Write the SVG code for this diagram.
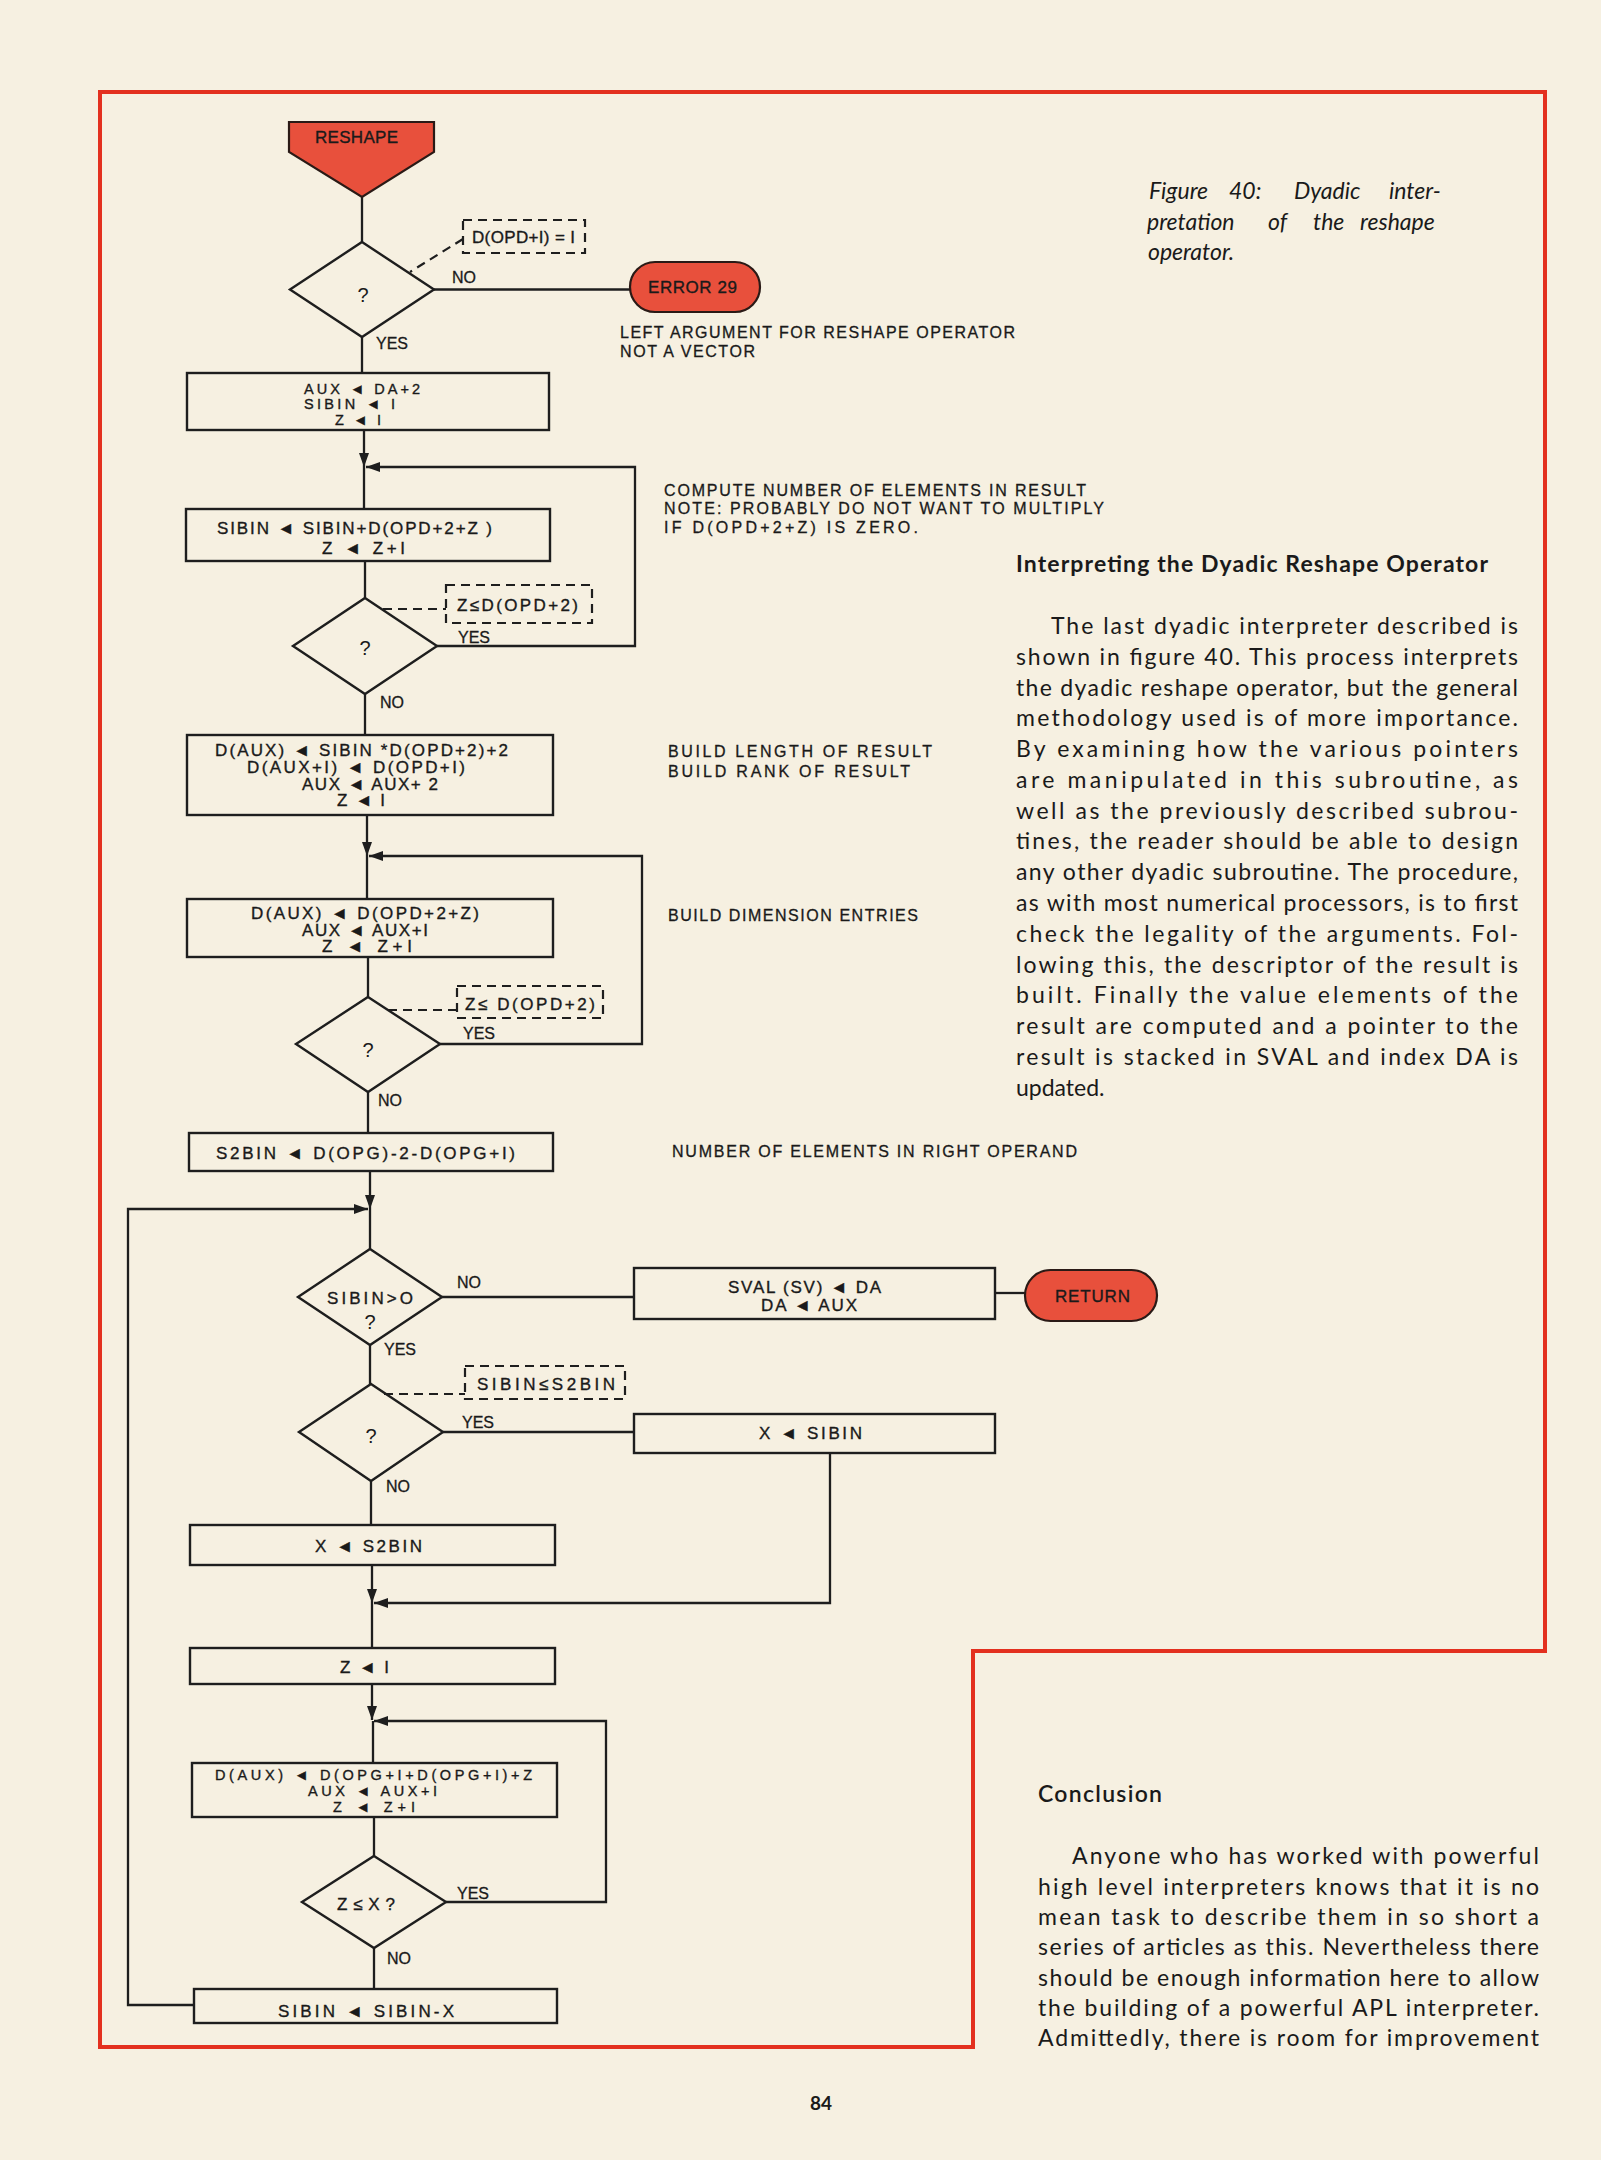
<svg xmlns="http://www.w3.org/2000/svg" width="1601" height="2160" viewBox="0 0 1601 2160">
<style>
.ln{fill:none;stroke:#1e1e1e;stroke-width:2.3}
.bx{fill:none;stroke:#1e1e1e;stroke-width:2.4}
.dash{fill:none;stroke:#1e1e1e;stroke-width:2.2;stroke-dasharray:9 6}
.red{fill:#e8503c;stroke:#2a1a16;stroke-width:2.2}
.t{font-family:"Liberation Sans","DejaVu Sans",sans-serif;font-size:17px;fill:#1a1a1a;stroke:#1a1a1a;stroke-width:0.35}
.ts{font-family:"Liberation Sans","DejaVu Sans",sans-serif;font-size:14.5px;fill:#1a1a1a;stroke:#1a1a1a;stroke-width:0.35}
.lb{font-family:"Liberation Sans","DejaVu Sans",sans-serif;font-size:16px;fill:#1a1a1a;stroke:#1a1a1a;stroke-width:0.3}
.q{font-family:"Liberation Sans","DejaVu Sans",sans-serif;font-size:20px;fill:#1a1a1a;text-anchor:middle}
.nt{font-family:"Liberation Sans","DejaVu Sans",sans-serif;font-size:16px;fill:#1a1a1a;stroke:#1a1a1a;stroke-width:0.3}
.body{font-family:Lato,"Open Sans",sans-serif;font-size:23px;fill:#1a1a1a}
.hd{font-family:Lato,"Open Sans",sans-serif;font-size:23px;font-weight:bold;fill:#1a1a1a}
.cap{font-family:Lato,"Open Sans",sans-serif;font-size:23px;font-style:italic;fill:#1a1a1a}
</style>
<defs>
<marker id="ah" viewBox="0 0 14 10" refX="14" refY="5" markerWidth="14" markerHeight="10" markerUnits="userSpaceOnUse" orient="auto"><path d="M0,0 L14,5 L0,10 z" fill="#1e1e1e"/></marker>
</defs>
<rect x="0" y="0" width="1601" height="2160" fill="#f6f0e1"/>
<path d="M100,92 H1545 V1651 H973 V2047 H100 Z" fill="none" stroke="#e3301f" stroke-width="4"/>

<g id="connectors">
<path class="ln" d="M362,197 V242"/>
<path class="ln" d="M362,337 V373"/>
<path class="ln" d="M434,289.5 H630"/>
<path class="ln" d="M364,430 V467" marker-end="url(#ah)"/>
<path class="ln" d="M437,646 H635 V467 H366" marker-end="url(#ah)"/>
<path class="ln" d="M364,467 V509"/>
<path class="ln" d="M365,561 V598"/>
<path class="ln" d="M365,694 V735"/>
<path class="ln" d="M367,815 V856" marker-end="url(#ah)"/>
<path class="ln" d="M440,1044 H642 V856 H369" marker-end="url(#ah)"/>
<path class="ln" d="M367,856 V899"/>
<path class="ln" d="M368,957 V997"/>
<path class="ln" d="M368,1092 V1133"/>
<path class="ln" d="M370,1171 V1209" marker-end="url(#ah)"/>
<path class="ln" d="M194,2005 H128 V1209 H368" marker-end="url(#ah)"/>
<path class="ln" d="M370,1209 V1249"/>
<path class="ln" d="M442,1297 H634"/>
<path class="ln" d="M995,1293 H1025"/>
<path class="ln" d="M370,1345 V1384"/>
<path class="ln" d="M443,1432 H634"/>
<path class="ln" d="M371,1481 V1525"/>
<path class="ln" d="M372,1565 V1603" marker-end="url(#ah)"/>
<path class="ln" d="M830,1453 V1603 H374" marker-end="url(#ah)"/>
<path class="ln" d="M372,1603 V1648"/>
<path class="ln" d="M372,1684 V1720" marker-end="url(#ah)"/>
<path class="ln" d="M446,1902 H606 V1721 H374" marker-end="url(#ah)"/>
<path class="ln" d="M373,1721 V1763"/>
<path class="ln" d="M374,1817 V1856"/>
<path class="ln" d="M374,1948 V1989"/>
<path class="dash" d="M463,239 L410,272"/>
<path class="dash" d="M383,609 H446"/>
<path class="dash" d="M388,1010 H457"/>
<path class="dash" d="M384,1394 H465"/>
<text class="lb" x="452" y="283">NO</text>
<text class="lb" x="376" y="349">YES</text>
<text class="lb" x="458" y="643">YES</text>
<text class="lb" x="380" y="708">NO</text>
<text class="lb" x="463" y="1039">YES</text>
<text class="lb" x="378" y="1106">NO</text>
<text class="lb" x="457" y="1288">NO</text>
<text class="lb" x="384" y="1355">YES</text>
<text class="lb" x="462" y="1428">YES</text>
<text class="lb" x="386" y="1492">NO</text>
<text class="lb" x="457" y="1899">YES</text>
<text class="lb" x="387" y="1964">NO</text>
</g>

<g id="reshape">
<path class="red" d="M289,122 H434 V152 L362,197 L289,152 Z"/>
<text class="t" x="315" y="143" textLength="83">RESHAPE</text>
</g>
<g id="d1">
<path class="bx" d="M362,242 L434,289.5 L362,337 L290,289.5 Z"/>
<text class="q" x="363" y="302">?</text>
</g>
<g id="a1">
<rect class="dash" x="463" y="220" width="122" height="33"/>
<text class="t" x="472" y="243" textLength="103">D(OPD+I) = I</text>
</g>
<g id="error29">
<rect class="red" x="630" y="262" width="130" height="50" rx="25"/>
<text class="t" x="648" y="293" textLength="89">ERROR 29</text>
</g>
<g id="note-error">
<text class="nt" x="620" y="338" textLength="395">LEFT ARGUMENT FOR RESHAPE OPERATOR</text>
<text class="nt" x="620" y="357" textLength="135">NOT A VECTOR</text>
</g>
<g id="b1">
<rect class="bx" x="187" y="373" width="362" height="57"/>
<text class="ts" x="304" y="393.5" textLength="116">AUX ◄ DA+2</text>
<text class="ts" x="304" y="409" textLength="91">SIBIN ◄ I</text>
<text class="ts" x="335" y="424.5" textLength="46">Z ◄ I</text>
</g>
<g id="b2">
<rect class="bx" x="186" y="509" width="364" height="52"/>
<text class="t" x="217" y="534" textLength="275">SIBIN ◄ SIBIN+D(OPD+2+Z )</text>
<text class="t" x="322" y="554" textLength="83">Z ◄ Z+I</text>
</g>
<g id="note-compute">
<text class="nt" x="664" y="496" textLength="422">COMPUTE NUMBER OF ELEMENTS IN RESULT</text>
<text class="nt" x="664" y="514" textLength="440">NOTE: PROBABLY DO NOT WANT TO MULTIPLY</text>
<text class="nt" x="664" y="533" textLength="254">IF D(OPD+2+Z) IS ZERO.</text>
</g>
<g id="d2">
<path class="bx" d="M365,598 L437,646 L365,694 L293,646 Z"/>
<text class="q" x="365" y="655">?</text>
</g>
<g id="a2">
<rect class="dash" x="446" y="585" width="146" height="38"/>
<text class="t" x="457" y="611" textLength="121">Z≤D(OPD+2)</text>
</g>
<g id="b3">
<rect class="bx" x="187" y="735" width="366" height="80"/>
<text class="t" x="215" y="756" textLength="293">D(AUX) ◄ SIBIN *D(OPD+2)+2</text>
<text class="t" x="247" y="772.5" textLength="218">D(AUX+I) ◄ D(OPD+I)</text>
<text class="t" x="302" y="789.5" textLength="136">AUX ◄ AUX+ 2</text>
<text class="t" x="337" y="806" textLength="48">Z ◄ I</text>
</g>
<g id="note-build">
<text class="nt" x="668" y="757" textLength="264">BUILD LENGTH OF RESULT</text>
<text class="nt" x="668" y="777" textLength="242">BUILD RANK OF RESULT</text>
</g>
<g id="b4">
<rect class="bx" x="187" y="899" width="366" height="58"/>
<text class="t" x="251" y="919" textLength="228">D(AUX) ◄ D(OPD+2+Z)</text>
<text class="t" x="302" y="935.5" textLength="126">AUX ◄ AUX+I</text>
<text class="t" x="322" y="951.5" textLength="90">Z ◄ Z+I</text>
</g>
<g id="note-dim">
<text class="nt" x="668" y="921" textLength="250">BUILD DIMENSION ENTRIES</text>
</g>
<g id="d3">
<path class="bx" d="M368,997 L440,1044 L368,1092 L296,1044 Z"/>
<text class="q" x="368" y="1057">?</text>
</g>
<g id="a3">
<rect class="dash" x="457" y="986" width="146" height="32"/>
<text class="t" x="465" y="1010" textLength="130">Z≤ D(OPD+2)</text>
</g>
<g id="b5">
<rect class="bx" x="189" y="1133" width="364" height="38"/>
<text class="t" x="216" y="1159" textLength="299">S2BIN ◄ D(OPG)-2-D(OPG+I)</text>
</g>
<g id="note-number">
<text class="nt" x="672" y="1157" textLength="405">NUMBER OF ELEMENTS IN RIGHT OPERAND</text>
</g>
<g id="d4">
<path class="bx" d="M370,1249 L442,1297 L370,1345 L298,1297 Z"/>
<text class="t" x="327" y="1304" textLength="86">SIBIN&gt;O</text>
<text class="q" x="370" y="1329">?</text>
</g>
<g id="b6">
<rect class="bx" x="634" y="1268" width="361" height="51"/>
<text class="t" x="728" y="1292.5" textLength="153">SVAL (SV) ◄ DA</text>
<text class="t" x="761" y="1311" textLength="96">DA ◄ AUX</text>
</g>
<g id="return">
<rect class="red" x="1025" y="1270" width="132" height="51" rx="25.5"/>
<text class="t" x="1055" y="1302" textLength="75">RETURN</text>
</g>
<g id="a4">
<rect class="dash" x="465" y="1366" width="160" height="33"/>
<text class="t" x="477" y="1390" textLength="138">SIBIN≤S2BIN</text>
</g>
<g id="d5">
<path class="bx" d="M371,1384 L443,1432 L371,1481 L299,1432 Z"/>
<text class="q" x="371" y="1443">?</text>
</g>
<g id="b7">
<rect class="bx" x="634" y="1414" width="361" height="39"/>
<text class="t" x="759" y="1439" textLength="103">X ◄ SIBIN</text>
</g>
<g id="b8">
<rect class="bx" x="190" y="1525" width="365" height="40"/>
<text class="t" x="315" y="1551.5" textLength="107">X ◄ S2BIN</text>
</g>
<g id="b9">
<rect class="bx" x="190" y="1648" width="365" height="36"/>
<text class="t" x="340" y="1672.5" textLength="49">Z ◄ I</text>
</g>
<g id="b10">
<rect class="bx" x="192" y="1763" width="365" height="54"/>
<text class="ts" x="215" y="1780" textLength="317">D(AUX) ◄ D(OPG+I+D(OPG+I)+Z</text>
<text class="ts" x="308" y="1796" textLength="129">AUX ◄ AUX+I</text>
<text class="ts" x="333" y="1811.5" textLength="82">Z ◄ Z+I</text>
</g>
<g id="d6">
<path class="bx" d="M374,1856 L446,1902 L374,1948 L302,1902 Z"/>
<text class="t" x="337" y="1910" textLength="58">Z≤X?</text>
</g>
<g id="b11">
<rect class="bx" x="194" y="1989" width="363" height="34"/>
<text class="t" x="278" y="2016.5" textLength="176">SIBIN ◄ SIBIN-X</text>
</g>

<g id="caption">
<text class="cap" y="199"><tspan x="1149">Figure</tspan><tspan x="1229">40:</tspan><tspan x="1294">Dyadic</tspan><tspan x="1389">inter-</tspan></text>
<text class="cap" y="229.5"><tspan x="1147">pretation</tspan><tspan x="1268">of</tspan><tspan x="1313">the</tspan><tspan x="1360">reshape</tspan></text>
<text class="cap" x="1148" y="260">operator.</text>
</g>
<g id="article">
<text class="hd" x="1016" y="572" textLength="472">Interpreting the Dyadic Reshape Operator</text>
<text class="body" x="1051" y="634" textLength="467">The last dyadic interpreter described is</text>
<text class="body" x="1016" y="664.8" textLength="502">shown in figure 40. This process interprets</text>
<text class="body" x="1016" y="695.5" textLength="502">the dyadic reshape operator, but the general</text>
<text class="body" x="1016" y="726.3" textLength="502">methodology used is of more importance.</text>
<text class="body" x="1016" y="757.1" textLength="502">By examining how the various pointers</text>
<text class="body" x="1016" y="787.9" textLength="502">are manipulated in this subroutine, as</text>
<text class="body" x="1016" y="818.6" textLength="502">well as the previously described subrou-</text>
<text class="body" x="1016" y="849.4" textLength="502">tines, the reader should be able to design</text>
<text class="body" x="1016" y="880.2" textLength="502">any other dyadic subroutine. The procedure,</text>
<text class="body" x="1016" y="910.9" textLength="502">as with most numerical processors, is to first</text>
<text class="body" x="1016" y="941.7" textLength="502">check the legality of the arguments. Fol-</text>
<text class="body" x="1016" y="972.5" textLength="502">lowing this, the descriptor of the result is</text>
<text class="body" x="1016" y="1003.2" textLength="502">built. Finally the value elements of the</text>
<text class="body" x="1016" y="1034" textLength="502">result are computed and a pointer to the</text>
<text class="body" x="1016" y="1064.8" textLength="502">result is stacked in SVAL and index DA is</text>
<text class="body" x="1016" y="1095.5">updated.</text>
<text class="hd" x="1038" y="1802" textLength="124" style="font-weight:600">Conclusion</text>
<text class="body" x="1072" y="1864" textLength="467">Anyone who has worked with powerful</text>
<text class="body" x="1038" y="1894.5" textLength="501">high level interpreters knows that it is no</text>
<text class="body" x="1038" y="1925" textLength="501">mean task to describe them in so short a</text>
<text class="body" x="1038" y="1955.3" textLength="501">series of articles as this. Nevertheless there</text>
<text class="body" x="1038" y="1985.6" textLength="501">should be enough information here to allow</text>
<text class="body" x="1038" y="2015.9" textLength="501">the building of a powerful APL interpreter.</text>
<text class="body" x="1038" y="2046" textLength="501">Admittedly, there is room for improvement</text>
<text x="821" y="2110" text-anchor="middle" style="font-family:Lato,'Liberation Sans',sans-serif;font-size:19px;font-weight:bold;fill:#1a1a1a">84</text>
</g>
</svg>
